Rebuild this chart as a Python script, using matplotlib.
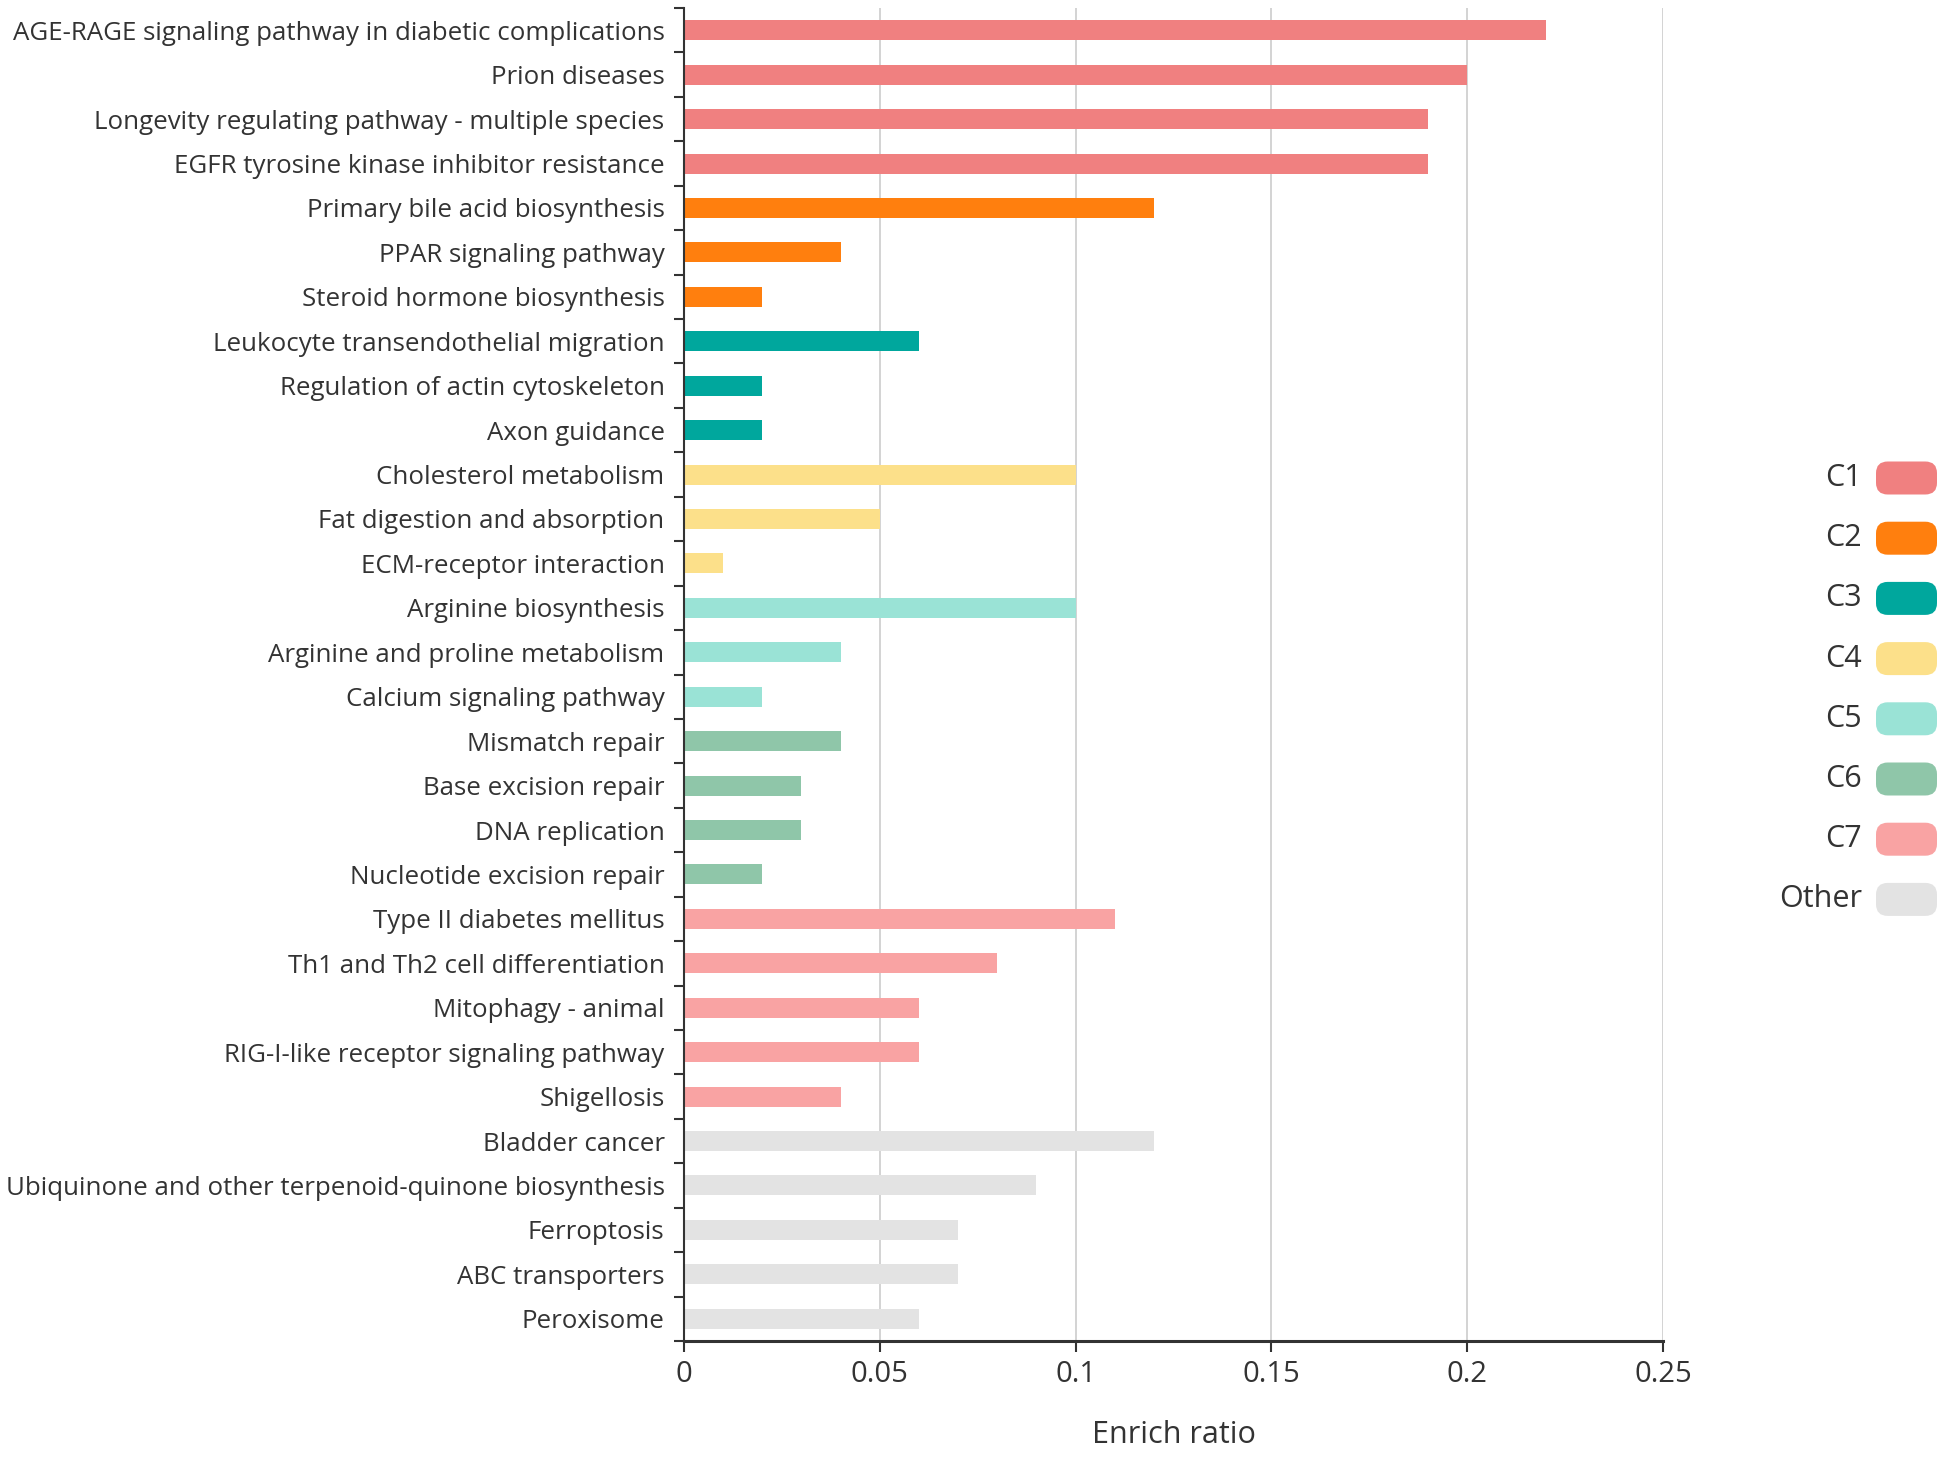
import matplotlib
matplotlib.use("Agg")
import matplotlib.pyplot as plt
from matplotlib.patches import FancyBboxPatch
import numpy as np

plt.rcParams['font.family'] = ['Open Sans', 'DejaVu Sans']

pathways = [
    "AGE-RAGE signaling pathway in diabetic complications",
    "Prion diseases",
    "Longevity regulating pathway - multiple species",
    "EGFR tyrosine kinase inhibitor resistance",
    "Primary bile acid biosynthesis",
    "PPAR signaling pathway",
    "Steroid hormone biosynthesis",
    "Leukocyte transendothelial migration",
    "Regulation of actin cytoskeleton",
    "Axon guidance",
    "Cholesterol metabolism",
    "Fat digestion and absorption",
    "ECM-receptor interaction",
    "Arginine biosynthesis",
    "Arginine and proline metabolism",
    "Calcium signaling pathway",
    "Mismatch repair",
    "Base excision repair",
    "DNA replication",
    "Nucleotide excision repair",
    "Type II diabetes mellitus",
    "Th1 and Th2 cell differentiation",
    "Mitophagy - animal",
    "RIG-I-like receptor signaling pathway",
    "Shigellosis",
    "Bladder cancer",
    "Ubiquinone and other terpenoid-quinone biosynthesis",
    "Ferroptosis",
    "ABC transporters",
    "Peroxisome",
]
enrich_ratio = [0.22, 0.20, 0.19, 0.19,
                0.12, 0.04, 0.02,
                0.06, 0.02, 0.02,
                0.10, 0.05, 0.01,
                0.10, 0.04, 0.02,
                0.04, 0.03, 0.03, 0.02,
                0.11, 0.08, 0.06, 0.06, 0.04,
                0.12, 0.09, 0.07, 0.07, 0.06]
cluster = (["C1"] * 4 + ["C2"] * 3 + ["C3"] * 3 + ["C4"] * 3 + ["C5"] * 3
           + ["C6"] * 4 + ["C7"] * 5 + ["Other"] * 5)
legend_labels = ["C1", "C2", "C3", "C4", "C5", "C6", "C7", "Other"]
colors = {"C1": "#F08080", "C2": "#FF7F0E", "C3": "#00A79D", "C4": "#FCE08A",
          "C5": "#9AE3D6", "C6": "#8FC6A9", "C7": "#F9A3A3", "Other": "#E3E3E3"}
xticks = [0, 0.05, 0.1, 0.15, 0.2, 0.25]
xticklabels = ["0", "0.05", "0.1", "0.15", "0.2", "0.25"]

W, H = 1943, 1464
fig = plt.figure(figsize=(W / 100, H / 100), dpi=100)
ax = fig.add_axes([684 / W, 1 - 1341 / H, (1663 - 684) / W, (1341 - 8) / H])

txt = "#333333"
y = np.arange(len(pathways))
ax.barh(y, enrich_ratio, height=0.45,
        color=[colors[c] for c in cluster], zorder=2)
ax.set_xlim(0, 0.25)
ax.set_ylim(len(pathways) - 0.5, -0.5)
ax.set_yticks(y)
ax.set_yticklabels(pathways, fontsize=18.6, color=txt)
ax.set_yticks(np.arange(-0.5, len(pathways) + 0.5, 1), minor=True)
ax.tick_params(axis='y', which='major', length=0, pad=14)
ax.tick_params(axis='y', which='minor', length=7, width=1.5, color="#333333", direction='out')
ax.set_xticks(xticks)
ax.set_xticklabels(xticklabels, fontsize=21, color=txt)
ax.tick_params(axis='x', length=8, width=1.5, color="#333333", pad=6)
ax.grid(axis='x', color="#cccccc", linewidth=1.2, zorder=0)
ax.set_axisbelow(True)
for s in ["top", "right"]:
    ax.spines[s].set_visible(False)
for s in ["left", "bottom"]:
    ax.spines[s].set_zorder(4)
ax.spines["left"].set_color("#333333")
ax.spines["left"].set_linewidth(1.5)
ax.spines["bottom"].set_color("#333333")
ax.spines["bottom"].set_linewidth(2.2)
ax.set_xlabel("Enrich ratio", fontsize=22, color=txt, labelpad=22)

# legend
for i, lab in enumerate(legend_labels):
    cy = 478 + i * 60.2
    px0, pw, ph = 1876, 61, 33
    patch = FancyBboxPatch((px0 / W, 1 - (cy + ph / 2) / H), pw / W, ph / H,
                           boxstyle="round,pad=0,rounding_size=0.006",
                           transform=fig.transFigure, facecolor=colors[lab],
                           edgecolor='none', mutation_aspect=W / H)
    fig.patches.append(patch)
    fig.text(1862 / W, 1 - cy / H, lab, ha='right', va='center', fontsize=22, color=txt)

fig.savefig("out.png", dpi=100, facecolor="white")
